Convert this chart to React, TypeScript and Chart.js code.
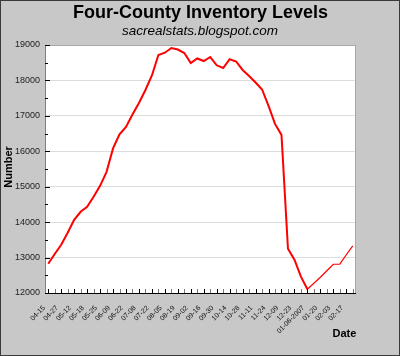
import React, { useEffect, useRef } from 'react';
import { Chart, registerables } from 'chart.js';

Chart.register(...registerables);

// Labels shown under every other weekly point
const tickLabels = [
  '04-15', '04-27', '05-12', '05-18', '05-25', '06-09', '06-22', '07-08',
  '07-22', '08-05', '08-19', '09-02', '09-16', '09-30', '10-14', '10-28',
  '11-11', '11-24', '12-09', '12-23', '01-06-2007', '01-20', '02-03', '02-17',
];

// Weekly inventory counts
const inventory = [
  12826, 13099, 13362, 13700, 14066, 14292, 14433, 14715, 15025, 15420,
  16080, 16477, 16688, 17040, 17365, 17731, 18140, 18718, 18782, 18915,
  18873, 18774, 18492, 18619, 18548, 18661, 18427, 18351, 18597, 18535,
  18295, 18126, 17942, 17745, 17280, 16773, 16462, 13249, 12939, 12460,
  12107, 12276, 12445, 12629, 12812, 12817, 13080, 13333,
];

const yMin = 12000;
const yMax = 19000;
const yStep = 500;

const titleText = 'Four-County Inventory Levels';
const subtitleText = 'sacrealstats.blogspot.com';
const yTitle = 'Number';
const xTitle = 'Date';

const categories = inventory.map((_, i) => (i % 2 === 0 ? tickLabels[i / 2] ?? '' : ''));

const FONT = '"Liberation Sans", Arial, Helvetica, sans-serif';

const framePlugin = {
  id: 'frame',
  beforeDraw(chart: any) {
    const { ctx, width, height, chartArea: a } = chart;
    ctx.save();
    ctx.fillStyle = '#c8c8c8';
    ctx.fillRect(0, 0, width, height);
    ctx.strokeStyle = '#3a3a3a';
    ctx.lineWidth = 1;
    ctx.strokeRect(0.5, 0.5, width - 1, height - 1);
    ctx.fillStyle = '#ffffff';
    ctx.fillRect(a.left, a.top, a.right - a.left, a.bottom - a.top);

    ctx.fillStyle = '#000';
    ctx.textAlign = 'center';
    ctx.textBaseline = 'alphabetic';
    ctx.font = `bold 18px ${FONT}`;
    ctx.fillText(titleText, 200.5, 17.5);
    ctx.font = `italic 13.5px ${FONT}`;
    ctx.fillText(subtitleText, 200, 35);

    ctx.font = `bold 11px ${FONT}`;
    ctx.textAlign = 'left';
    ctx.fillText(xTitle, 332.5, 336.5);

    ctx.save();
    ctx.translate(11.5, 167);
    ctx.rotate(-Math.PI / 2);
    ctx.textAlign = 'center';
    ctx.fillText(yTitle, 0, 0);
    ctx.restore();
    ctx.restore();
  },
  afterDraw(chart: any) {
    const { ctx, chartArea: a, scales } = chart;
    ctx.save();
    // plot frame
    ctx.strokeStyle = '#a8a8a8';
    ctx.lineWidth = 1;
    ctx.strokeRect(a.left + 0.5, a.top + 0.5, a.right - a.left - 1, a.bottom - a.top);
    ctx.strokeStyle = '#808080';
    ctx.beginPath();
    ctx.moveTo(a.left + 0.5, a.top);
    ctx.lineTo(a.left + 0.5, a.bottom);
    ctx.stroke();
    ctx.strokeStyle = '#000';
    ctx.beginPath();
    ctx.moveTo(a.left, a.bottom + 0.5);
    ctx.lineTo(a.right, a.bottom + 0.5);
    ctx.stroke();

    // y inner ticks
    const ys = scales.y;
    ys.ticks.forEach((t: any) => {
      const y = Math.round(ys.getPixelForValue(t.value)) + 0.5;
      const major = t.value % 1000 === 0;
      ctx.strokeStyle = '#000';
      ctx.beginPath();
      ctx.moveTo(a.left, y);
      ctx.lineTo(a.left + (major ? 5 : 3), y);
      ctx.stroke();
    });
    // x inner ticks
    const xs = scales.x;
    inventory.forEach((_, i) => {
      const x = Math.round(xs.getPixelForValue(i)) + 0.5;
      ctx.strokeStyle = i % 2 === 0 ? '#000' : '#777';
      ctx.beginPath();
      ctx.moveTo(x, a.bottom);
      ctx.lineTo(x, a.bottom - 4);
      ctx.stroke();
    });
    ctx.restore();
  },
};

export default function App() {
  const ref = useRef<HTMLCanvasElement | null>(null);
  useEffect(() => {
    if (!ref.current) return;
    const chart = new Chart(ref.current, {
      type: 'line',
      data: {
        labels: categories,
        datasets: [
          {
            data: inventory,
            borderColor: '#ff0000',
            borderWidth: 2,
            pointRadius: 0,
            tension: 0,
            fill: false,
            segment: {
              borderWidth: (c: any) => (c.p0DataIndex >= 40 ? 1.2 : 2),
            },
          },
        ],
      },
      options: {
        responsive: false,
        animation: false,
        devicePixelRatio: 1,
        layout: { padding: { top: 45, right: 44, left: 0, bottom: 0 } },
        plugins: { legend: { display: false }, tooltip: { enabled: false }, title: { display: false } },
        scales: {
          x: {
            type: 'category',
            offset: true,
            grid: { display: false },
            border: { display: false },
            afterFit: (s: any) => {
              s.height = 63;
            },
            ticks: {
              autoSkip: false,
              maxRotation: 45,
              minRotation: 45,
              labelOffset: -4,
              padding: 3,
              color: '#111',
              font: { family: FONT, size: 7 },
            },
          },
          y: {
            min: yMin,
            max: yMax,
            border: { display: false },
            afterFit: (s: any) => {
              s.width = 45;
            },
            grid: {
              drawTicks: false,
              color: (c: any) => {
                const v = c.tick?.value;
                return v % 1000 === 0 && v > yMin && v < yMax ? '#dcdcdc' : 'rgba(0,0,0,0)';
              },
            },
            ticks: {
              stepSize: yStep,
              padding: 5,
              color: '#222',
              font: { family: FONT, size: 9 },
              callback: (v: any) => (Number(v) % 1000 === 0 ? String(v) : ''),
            },
          },
        },
      },
      plugins: [framePlugin],
    });
    return () => chart.destroy();
  }, []);
  return (
    <div style={{ position: 'fixed', left: 0, top: 0, width: 400, height: 356 }}>
      <canvas ref={ref} width={400} height={356} style={{ display: 'block' }} />
    </div>
  );
}
